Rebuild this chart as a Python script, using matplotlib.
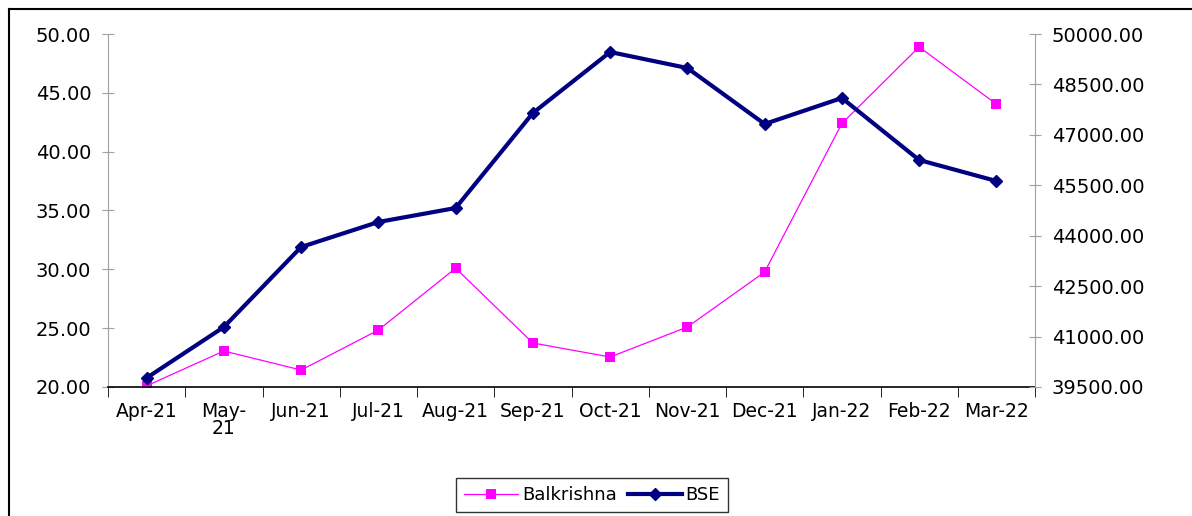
import matplotlib.pyplot as plt
from matplotlib.lines import Line2D
import numpy as np

plt.rcParams['font.family'] = ['DejaVu Sans']

months = ['Apr-21', 'May-\n21', 'Jun-21', 'Jul-21', 'Aug-21', 'Sep-21', 'Oct-21',
          'Nov-21', 'Dec-21', 'Jan-22', 'Feb-22', 'Mar-22']
balkrishna = [20.1, 23.06, 21.44, 24.84, 30.1, 23.74, 22.55, 25.1, 29.77, 42.4, 48.9, 44.04]
bse = [39770, 41285, 43664, 44408, 44824, 47650, 49464, 48988, 47323, 48096, 46252, 45627]

fig = plt.figure(figsize=(11.92, 5.16), dpi=100)
ax = fig.add_axes([108/1192, 1 - 387/516, (1035-108)/1192, (387-34)/516])
ax2 = ax.twinx()

x = np.arange(len(months))
l1, = ax.plot(x, balkrishna, color='#FF00FF', lw=0.9, marker='s', ms=7.5,
              markeredgewidth=0, label='Balkrishna')
l2, = ax2.plot(x, bse, color='#000080', lw=3, marker='D', ms=6,
               label='BSE')

ax.set_xlim(-0.5, 11.5)
ax.set_ylim(20, 50)
ax2.set_ylim(39500, 50000)
ax.set_yticks(np.arange(20, 50.1, 5))
ax.set_yticklabels(['%.2f' % v for v in np.arange(20, 50.1, 5)])
ax2.set_yticks(np.arange(39500, 50001, 1500))
ax2.set_yticklabels(['%.2f' % v for v in np.arange(39500, 50001, 1500)])

ax.set_xticks(x)
ax.set_xticklabels(months, fontsize=13.5, linespacing=0.85)
ax.set_xticks(np.arange(-0.5, 12, 1), minor=True)
ax.tick_params(axis='x', which='major', length=0, pad=11)
ax.tick_params(axis='x', which='minor', length=7, direction='out', color='black')

for a in (ax, ax2):
    for s in ('top', 'left', 'right', 'bottom'):
        a.spines[s].set_visible(False)
ax.spines['left'].set_visible(True)
ax.spines['left'].set_color('#a0a0a0')
ax2.spines['right'].set_visible(True)
ax2.spines['right'].set_color('#a0a0a0')
ax.spines['bottom'].set_visible(True)
ax.spines['bottom'].set_color('black')
ax.spines['bottom'].set_linewidth(1.2)
ax.spines['bottom'].set_zorder(5)

ax.tick_params(axis='y', length=8, direction='inout', color='#a0a0a0',
               labelsize=14, pad=8)
ax2.tick_params(axis='y', length=8, direction='inout', color='#a0a0a0',
                labelsize=14, pad=8)

# outer frame
fig.add_artist(Line2D([9/1192, 1], [1 - 9/516, 1 - 9/516], color='black', lw=1.5))
fig.add_artist(Line2D([9/1192, 9/1192], [0, 1 - 9/516], color='black', lw=1.5))

leg = fig.legend([l1, l2], ['Balkrishna', 'BSE'], loc='upper center',
                 bbox_to_anchor=(592/1192, 1 - 478/516), ncol=2, fontsize=13,
                 frameon=True, fancybox=False, edgecolor='black', borderaxespad=0,
                 handlelength=3.0, handletextpad=0.2, columnspacing=0.6,
                 borderpad=0.45)
leg.get_frame().set_linewidth(1)

fig.savefig('out.png', dpi=100)
